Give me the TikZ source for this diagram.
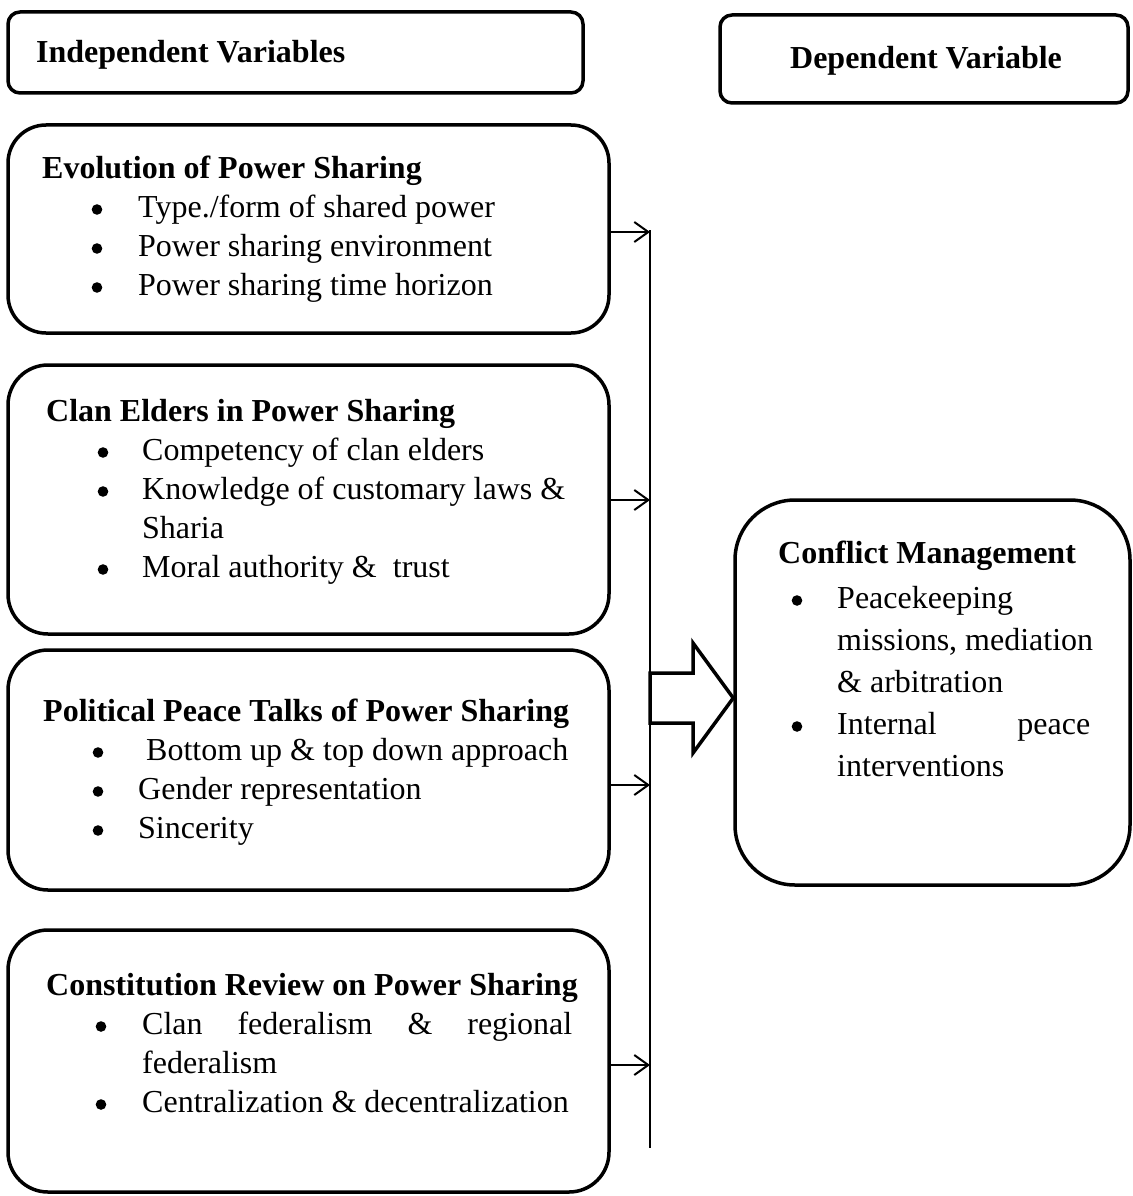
\documentclass[tikz,border=0pt]{standalone}
\usepackage{fontspec}
\setmainfont{Liberation Serif}
\usetikzlibrary{arrows.meta}
\newcommand{\bdot}{\tikz[baseline=0pt]{\fill (5.5pt,7.5pt) circle[radius=5.3pt];}}
\newcommand{\bul}[2]{\hspace*{#1}\makebox[#2][l]{\bdot}}
\newcommand{\cnt}[1]{\hspace*{#1}}
\tikzset{
  box/.style={draw, line width=3.5pt, rounded corners=#1, inner sep=0pt},
  txt/.style={anchor=base west, inner sep=0pt, align=left},
  arr/.style={line width=2pt, -{Straight Barb[length=14pt,width=20pt,line width=2pt]}},
  thin/.style={line width=2pt}
}
\begin{document}
\begin{tikzpicture}[x=1pt,y=-1pt]
\useasboundingbox (0,0) rectangle (1132,1196);
\fontsize{32}{39}\selectfont
% header boxes
\node[box=12pt, minimum width=575pt, minimum height=81pt] (iv) at (295.5,52.5) {};
\node[txt] (ivt) at (36,63) {\textbf{Independent Variables}};
\node[box=12pt, minimum width=408pt, minimum height=88pt] (dv) at (924,59) {};
\node[anchor=base, inner sep=0pt] (dvt) at (926,69) {\textbf{Dependent Variable}};
% independent variable boxes
\node[box=38pt, minimum width=601pt, minimum height=208pt] (b1) at (308.5,229) {};
\node[txt] (t1) at (42,178) {\begin{minipage}[t]{560pt}\fontsize{32}{39}\selectfont
\textbf{Evolution of Power Sharing}\\
\bul{49.5pt}{46.5pt}Type./form of shared power\\
\bul{49.5pt}{46.5pt}Power sharing environment\\
\bul{49.5pt}{46.5pt}Power sharing time horizon
\end{minipage}};
\node[box=40pt, minimum width=601pt, minimum height=269pt] (b2) at (308.5,499.5) {};
\node[txt] (t2) at (46,421) {\begin{minipage}[t]{560pt}\fontsize{32}{39}\selectfont
\textbf{Clan Elders in Power Sharing}\\
\bul{51.5pt}{44.5pt}Competency of clan elders\\
\bul{51.5pt}{44.5pt}Knowledge of customary laws \&\\
\cnt{96pt}Sharia\\
\bul{51.5pt}{44.5pt}Moral authority \&\ \ trust
\end{minipage}};
\node[box=40pt, minimum width=601pt, minimum height=240pt] (b3) at (308.5,770) {};
\node[txt] (t3) at (43,721) {\begin{minipage}[t]{560pt}\fontsize{32}{39}\selectfont
\textbf{Political Peace Talks of Power Sharing}\\
\bul{49.5pt}{45.5pt}\ Bottom up \& top down approach\\
\bul{49.5pt}{45.5pt}Gender representation\\
\bul{49.5pt}{45.5pt}Sincerity
\end{minipage}};
\node[box=40pt, minimum width=601pt, minimum height=262pt] (b4) at (308.5,1061) {};
\node[txt] (t4) at (46,995) {\begin{minipage}[t]{560pt}\fontsize{32}{39}\selectfont
\textbf{Constitution Review on Power Sharing}\\
\bul{49.5pt}{46.5pt}\makebox[430pt][s]{Clan federalism \& regional}\\
\cnt{96pt}federalism\\
\bul{49.5pt}{46.5pt}Centralization \& decentralization
\end{minipage}};
% dependent variable box
\node[box=60pt, minimum width=395pt, minimum height=385pt] (cm) at (932.5,692.5) {};
\node[txt] (tc) at (778,563) {\begin{minipage}[t]{330pt}\fontsize{32}{42}\selectfont
\textbf{Conflict Management}\\[3pt]
\bul{13.5pt}{45.5pt}Peacekeeping\\
\cnt{59pt}missions, mediation\\
\cnt{59pt}\& arbitration\\
\bul{13.5pt}{45.5pt}\makebox[253pt][s]{Internal peace}\\
\cnt{59pt}interventions
\end{minipage}};
% vertical collector line
\coordinate (ltop) at (650,230);
\coordinate (lbot) at (650,1148);
\draw[thin] (ltop) -- (lbot);
\coordinate (a1) at (650,232);
\coordinate (a2) at (650,500);
\coordinate (a3) at (650,785);
\coordinate (a4) at (650,1065);
\draw[arr] (b1.east |- a1) -- (a1);
\draw[arr] (b2.east |- a2) -- (a2);
\draw[arr] (b3.east |- a3) -- (a3);
\draw[arr] (b4.east |- a4) -- (a4);
% block arrow
\draw[line width=3.5pt, fill=white, line join=miter]
  (650,673) -- (693,673) -- (693,643) -- (cm.west |- 0,698) -- (693,753) -- (693,723) -- (650,723) -- cycle;
\end{tikzpicture}
\end{document}
